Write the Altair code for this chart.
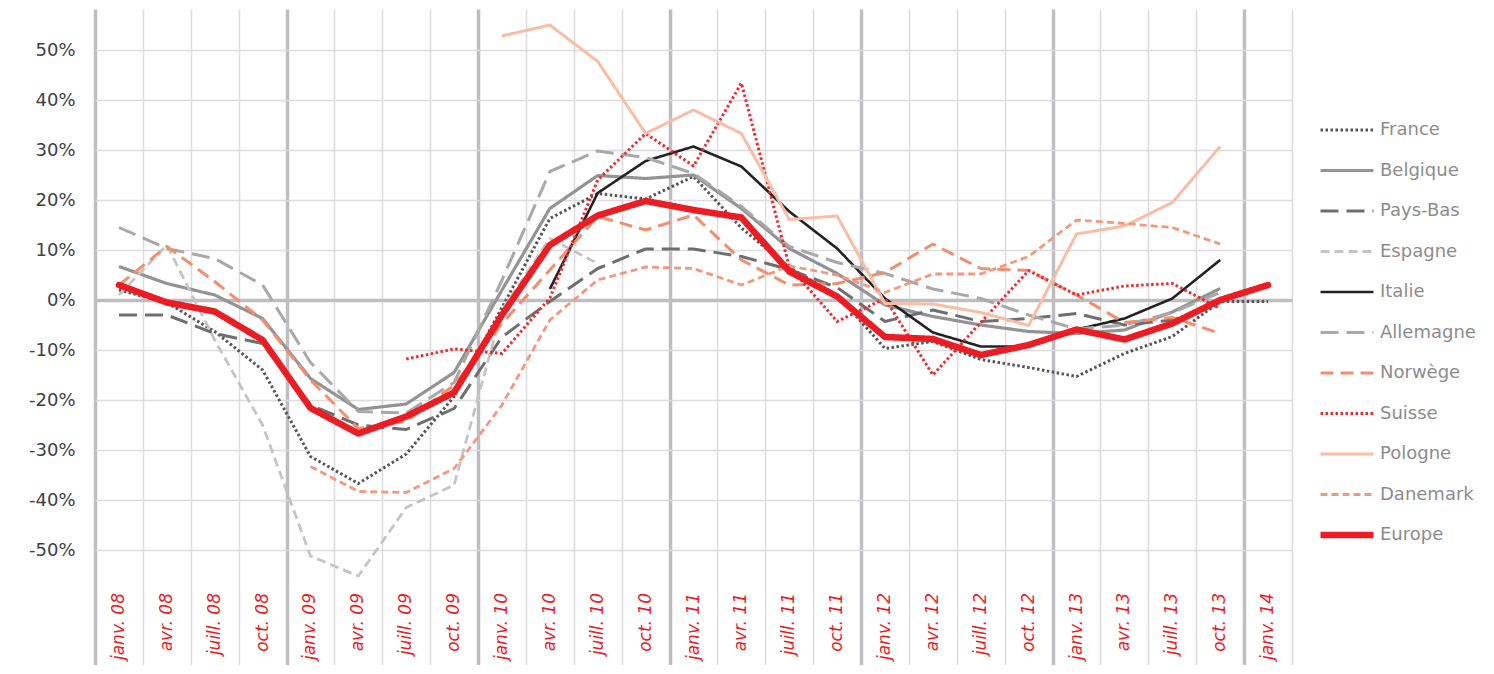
import altair as alt
import pandas as pd

periods = ["janv. 08", "avr. 08", "juill. 08", "oct. 08",
           "janv. 09", "avr. 09", "juill. 09", "oct. 09",
           "janv. 10", "avr. 10", "juill. 10", "oct. 10",
           "janv. 11", "avr. 11", "juill. 11", "oct. 11",
           "janv. 12", "avr. 12", "juill. 12", "oct. 12",
           "janv. 13", "avr. 13", "juill. 13", "oct. 13",
           "janv. 14"]

N = None
france = [2, -0.5, -6.3, -14, -31.3, -36.7, -30.8, -19.3, -1.5, 16.3, 21.3, 20.2, 24.7,
          14.4, 6.5, 1, -9.7, -8.3, -11.9, -13.5, -15.3, -10.7, -7.3, -0.3, -0.3]
belgique = [6.7, 3.3, 1, -3.7, -15.7, -21.9, -20.8, -14.5, 2, 18.3, 24.9, 24.3, 25,
            18.3, 10.3, 5.3, -1, -3.3, -5, -6.3, -6.7, -6, -2.4, 2.3, N]
paysbas = [-3, -3, -6.7, -8.7, -21, -25, -25.9, -21.7, -7.4, -0.3, 6.3, 10.2, 10.2,
           8.7, 6.1, 2.5, -4.3, -2, -4.3, -3.7, -2.7, -5, -4, -0.5, N]
espagne = [1, 11, -8, -25, -51.2, -55.2, -41.5, -37, -2, 12.3, 7.3,
           N, N, N, N, N, N, N, N, N, N, N, N, N, N]
italie = [N, N, N, N, N, N, N, N, N, 2.2, 21.4, 27.8, 30.7, 26.7, 17.7, 10.3, 0.3,
          -6.5, -9.3, -9.3, -5.9, -3.7, 0.3, 8, N]
allemagne = [14.5, 10.3, 8.3, 3, -12.5, -22.3, -22.6, -16.5, 4, 25.7, 29.8, 28.5, 25.3,
             18.7, 10.7, 7.5, 5.3, 2.2, 0.3, -3, -5.8, -5, -2.5, 1.5, N]
norvege = [3, 10.7, 3.7, -4, -16, -25.7, -24.3, -17, -4.7, 6, 16.7, 14, 17,
           8, 3, 3.3, 5.5, 11.2, 6.3, 5.9, 1, -4.5, -3.5, -6.7, N]
suisse = [N, N, N, N, N, N, -11.8, -9.8, -10.7, 0.4, 24, 33.3, 26.8, 43.4, 6.7, -4.3,
          0.3, -15, -4.5, 5.9, 1, 2.8, 3.3, -1.7, N]
pologne = [N, N, N, N, N, N, N, N, 52.8, 55, 47.7, 33.3, 38, 33.3, 16.1, 16.8,
           -0.7, -0.8, -2.5, -5.1, 13.2, 14.8, 19.5, 30.7, N]
danemark = [N, N, N, N, -33.3, -38.3, -38.5, -33.7, -21, -4, 4, 6.6, 6.3, 3, 6.8, 5,
            1.5, 5.2, 5.2, 8.7, 16, 15.3, 14.5, 11.2, N]
europe = [3, -0.5, -2.3, -8, -21.6, -26.7, -23.3, -18.5, -3, 11, 16.9, 19.8, 18,
          16.5, 5.7, 0.7, -7.4, -7.8, -11, -9, -5.9, -7.9, -4.7, 0, 3]

names = ["France", "Belgique", "Pays-Bas", "Espagne", "Italie", "Allemagne",
         "Norwège", "Suisse", "Pologne", "Danemark", "Europe"]
values = [france, belgique, paysbas, espagne, italie, allemagne,
          norvege, suisse, pologne, danemark, europe]
colors = ["#555555", "#939393", "#6e6e6e", "#c4c4c4", "#222222", "#a8a8a8",
          "#f28e6f", "#ee2a2f", "#f9bca4", "#f5977c", "#ec1c24"]
dashes = [[2.5, 2.5], [1, 0], [18, 8], [9, 5], [1, 0], [18, 8],
          [13, 7], [2.5, 2.5], [1, 0], [7, 4], [1, 0]]
widths = [3, 3.2, 3, 2.8, 2.6, 3, 3, 3, 3, 2.8, 6.5]

rows = []
for name, vals in zip(names, values):
    for i, v in enumerate(vals):
        if v is not None:
            rows.append({"country": name, "idx": i, "value": v})
df = pd.DataFrame(rows)
labels_df = pd.DataFrame({"period": periods, "idx": list(range(len(periods)))})

xscale = alt.Scale(domain=[-0.5, len(periods) - 0.5], nice=False, zero=False)
yscale = alt.Scale(domain=[-73, 58.2], nice=False, zero=False)

xaxis = alt.Axis(values=[i - 0.5 for i in range(len(periods) + 1)], grid=True,
                 labels=False, ticks=False, domain=False, title=None,
                 gridColor={"expr": "(datum.value + 0.5) % 4 == 0 ? '#bebec2' : '#dcdcdc'"},
                 gridWidth={"expr": "(datum.value + 0.5) % 4 == 0 ? 3.5 : 1.5"})
yaxis = alt.Axis(values=list(range(-50, 51, 10)), grid=True, ticks=False, domain=False,
                 title=None, labelExpr="datum.value + '%'", labelFont="DejaVu Sans",
                 labelFontSize=18, labelColor="#404040", labelPadding=20,
                 gridColor={"expr": "datum.value == 0 ? '#bebec2' : '#dcdcdc'"},
                 gridWidth={"expr": "datum.value == 0 ? 3.5 : 1.5"})

legend = alt.Legend(orient="none", legendX=1222, legendY=111, title=None,
                    symbolType="stroke", symbolSize=2809, clipHeight=20,
                    rowPadding=20.5, labelFont="DejaVu Sans", labelFontSize=18,
                    labelColor="#8c8c8c", labelOffset=3, padding=0)

enc = dict(
    x=alt.X("idx:Q", scale=xscale, axis=xaxis),
    y=alt.Y("value:Q", scale=yscale, axis=yaxis),
    color=alt.Color("country:O", scale=alt.Scale(domain=names, range=colors),
                    legend=legend, sort=names),
    strokeDash=alt.StrokeDash("country:O", scale=alt.Scale(domain=names, range=dashes),
                              legend=legend, sort=names),
    strokeWidth=alt.StrokeWidth("country:O",
                                scale=alt.Scale(type="ordinal", domain=names, range=widths),
                                legend=legend, sort=names),
)

others = alt.Chart(df).transform_filter("datum.country != 'Europe'").mark_line(
    strokeJoin="round", strokeCap="butt").encode(**enc)
eu = alt.Chart(df).transform_filter("datum.country == 'Europe'").mark_line(
    strokeJoin="round", strokeCap="round").encode(**enc)

xlabels = alt.Chart(labels_df).mark_text(
    angle=270, align="right", baseline="middle", font="DejaVu Sans",
    fontStyle="italic", fontSize=17, color="#ec1c24").encode(
    x=alt.X("idx:Q", scale=xscale),
    y=alt.datum(-58.6),
    text="period:N")

chart = alt.layer(xlabels, others, eu).properties(
    width=1197, height=656,
    autosize=alt.AutoSizeParams(type="none"),
    padding={"left": 87, "top": 1, "right": 190, "bottom": 0},
).configure_view(strokeWidth=0)

chart.save("out.html", embed_options={"renderer": "svg", "actions": False})
